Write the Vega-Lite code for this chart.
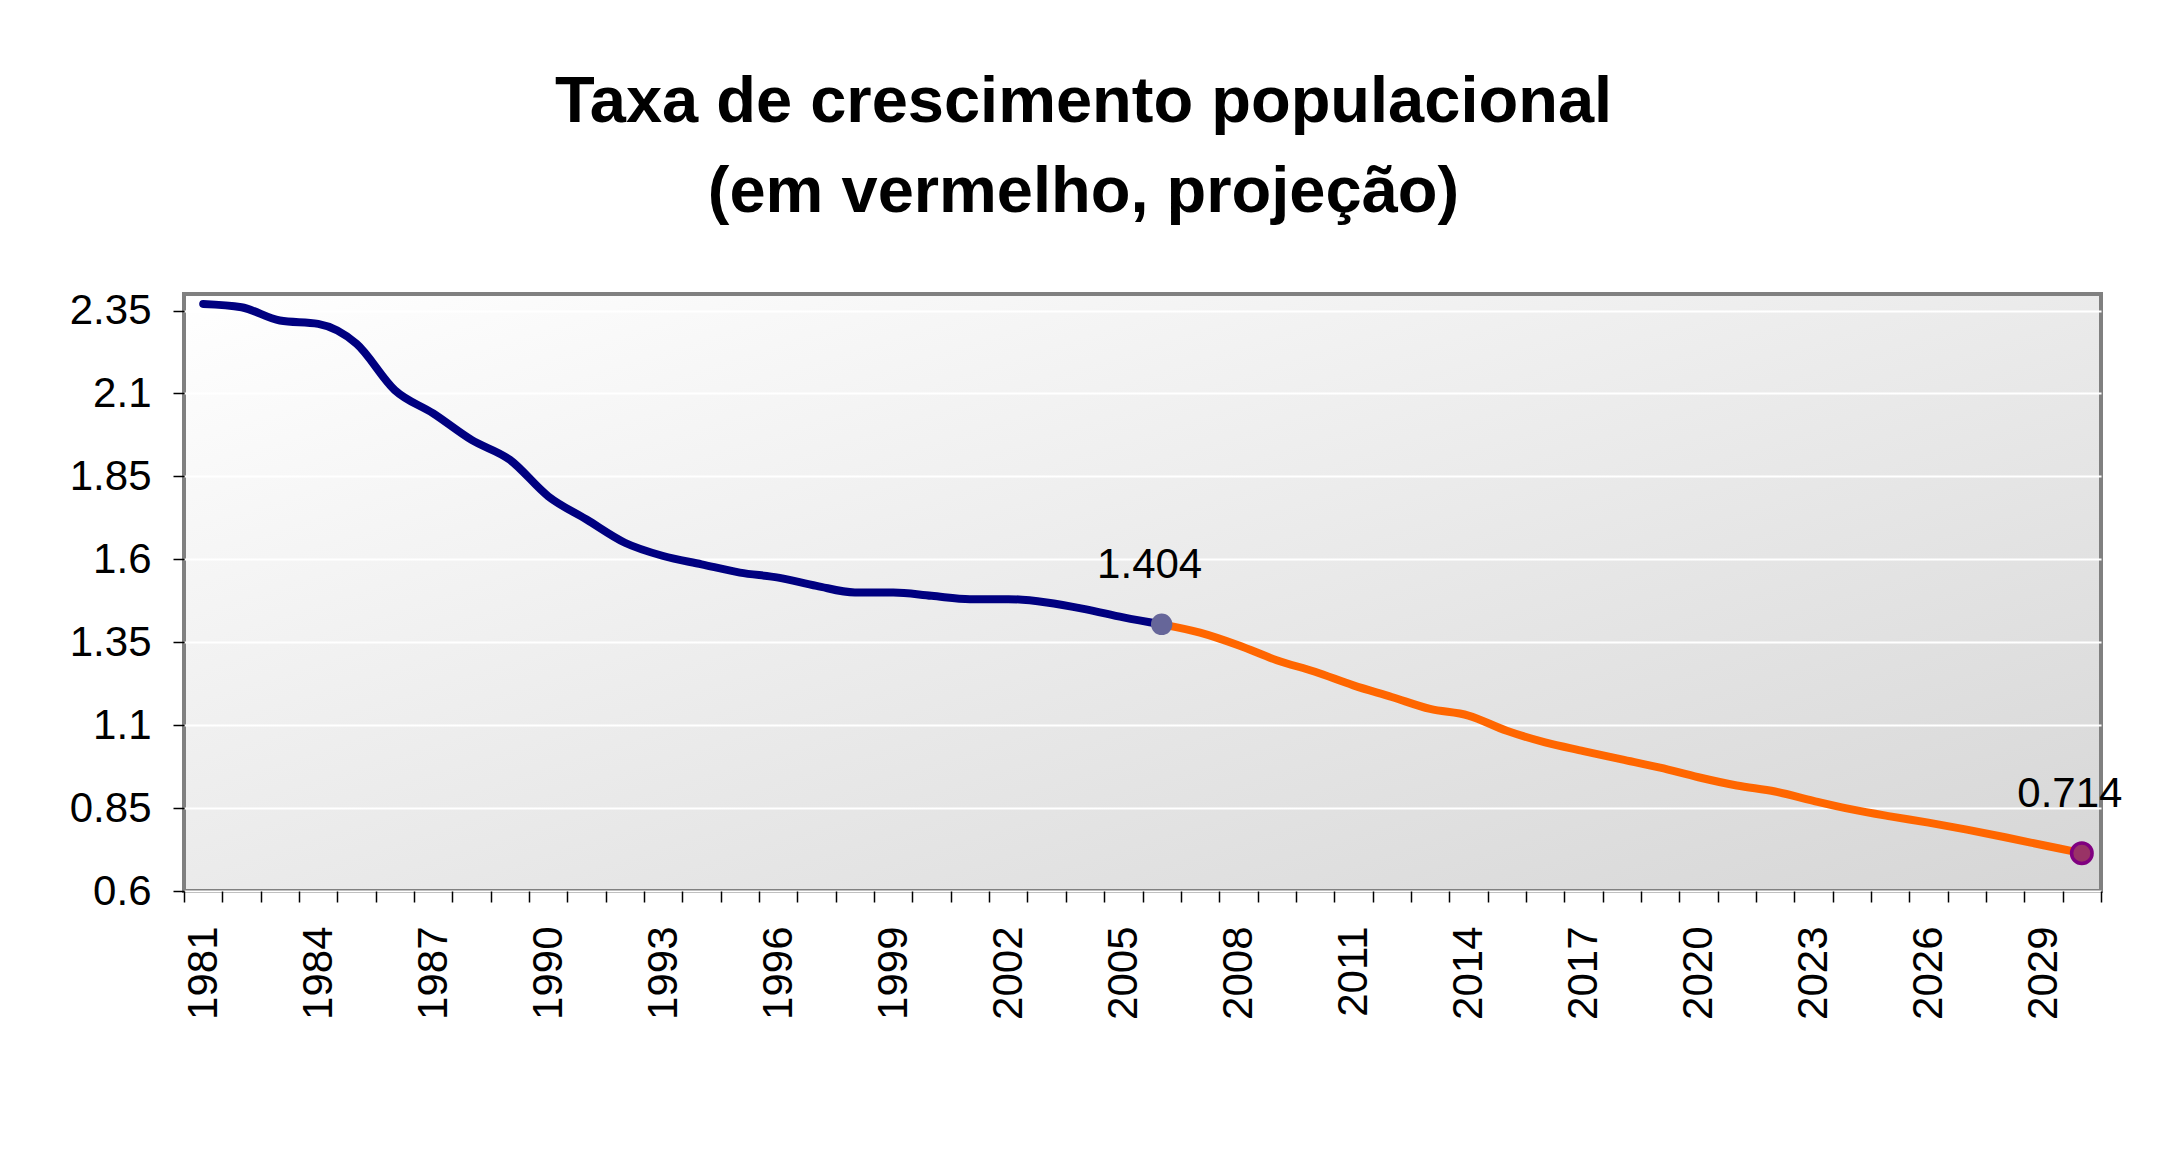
{
  "$schema": "https://vega.github.io/schema/vega-lite/v6.json",
  "width": 1917,
  "height": 597,
  "autosize": {"type": "none"},
  "padding": {"left": 184, "top": 294, "right": 65, "bottom": 258},
  "background": "white",
  "title": {
    "text": ["Taxa de crescimento populacional", "(em vermelho, projeção)"],
    "font": "Liberation Sans",
    "fontSize": 65,
    "fontWeight": "bold",
    "lineHeight": 90,
    "color": "black",
    "anchor": "middle",
    "frame": "group",
    "dx": -59,
    "offset": 62
  },
  "config": {
    "view": {
      "fill": {"gradient": "linear", "x1": 0, "y1": 0, "x2": 1, "y2": 1,
        "stops": [{"offset": 0, "color": "#ffffff"}, {"offset": 1, "color": "#d6d6d6"}]},
      "stroke": "#808080",
      "strokeWidth": 4
    }
  },
  "datasets": {
    "series": [
      {"year": 1981, "value": 2.37, "serie": "hist"},
      {"year": 1982, "value": 2.36, "serie": "hist"},
      {"year": 1983, "value": 2.32, "serie": "hist"},
      {"year": 1984, "value": 2.31, "serie": "hist"},
      {"year": 1985, "value": 2.25, "serie": "hist"},
      {"year": 1986, "value": 2.11, "serie": "hist"},
      {"year": 1987, "value": 2.04, "serie": "hist"},
      {"year": 1988, "value": 1.96, "serie": "hist"},
      {"year": 1989, "value": 1.9, "serie": "hist"},
      {"year": 1990, "value": 1.79, "serie": "hist"},
      {"year": 1991, "value": 1.72, "serie": "hist"},
      {"year": 1992, "value": 1.65, "serie": "hist"},
      {"year": 1993, "value": 1.61, "serie": "hist"},
      {"year": 1994, "value": 1.585, "serie": "hist"},
      {"year": 1995, "value": 1.56, "serie": "hist"},
      {"year": 1996, "value": 1.545, "serie": "hist"},
      {"year": 1997, "value": 1.52, "serie": "hist"},
      {"year": 1998, "value": 1.5, "serie": "hist"},
      {"year": 1999, "value": 1.5, "serie": "hist"},
      {"year": 2000, "value": 1.49, "serie": "hist"},
      {"year": 2001, "value": 1.48, "serie": "hist"},
      {"year": 2002, "value": 1.48, "serie": "hist"},
      {"year": 2003, "value": 1.47, "serie": "hist"},
      {"year": 2004, "value": 1.45, "serie": "hist"},
      {"year": 2005, "value": 1.425, "serie": "hist"},
      {"year": 2006, "value": 1.404, "serie": "hist"},
      {"year": 2006, "value": 1.404, "serie": "proj"},
      {"year": 2007, "value": 1.379, "serie": "proj"},
      {"year": 2008, "value": 1.341, "serie": "proj"},
      {"year": 2009, "value": 1.296, "serie": "proj"},
      {"year": 2010, "value": 1.261, "serie": "proj"},
      {"year": 2011, "value": 1.22, "serie": "proj"},
      {"year": 2012, "value": 1.185, "serie": "proj"},
      {"year": 2013, "value": 1.149, "serie": "proj"},
      {"year": 2014, "value": 1.129, "serie": "proj"},
      {"year": 2015, "value": 1.083, "serie": "proj"},
      {"year": 2016, "value": 1.048, "serie": "proj"},
      {"year": 2017, "value": 1.022, "serie": "proj"},
      {"year": 2018, "value": 0.997, "serie": "proj"},
      {"year": 2019, "value": 0.972, "serie": "proj"},
      {"year": 2020, "value": 0.943, "serie": "proj"},
      {"year": 2021, "value": 0.918, "serie": "proj"},
      {"year": 2022, "value": 0.9, "serie": "proj"},
      {"year": 2023, "value": 0.872, "serie": "proj"},
      {"year": 2024, "value": 0.846, "serie": "proj"},
      {"year": 2025, "value": 0.825, "serie": "proj"},
      {"year": 2026, "value": 0.806, "serie": "proj"},
      {"year": 2027, "value": 0.785, "serie": "proj"},
      {"year": 2028, "value": 0.762, "serie": "proj"},
      {"year": 2029, "value": 0.738, "serie": "proj"},
      {"year": 2030, "value": 0.714, "serie": "proj"}
    ],
    "marks": [
      {"year": 2006, "value": 1.404, "kind": "last"},
      {"year": 2030, "value": 0.714, "kind": "end"}
    ]
  },
  "encoding": {
    "x": {
      "field": "year",
      "type": "ordinal",
      "bandPosition": 0.5,
      "scale": {"type": "band", "paddingInner": 0, "paddingOuter": 0},
      "axis": {
        "title": null,
        "labelAngle": 270,
        "tickBand": "extent",
        "labelExpr": "(datum.value - 1981) % 3 == 0 ? datum.label : ''",
        "labelFont": "Liberation Sans",
        "labelFontSize": 42,
        "labelColor": "black",
        "tickColor": "black",
        "tickSize": 11,
        "tickWidth": 1.5,
        "domain": false,
        "grid": false,
        "labelPadding": 24,
        "labelOverlap": false
      }
    },
    "y": {
      "field": "value",
      "type": "quantitative",
      "scale": {"domain": [0.6, 2.4], "nice": false, "zero": false},
      "axis": {
        "title": null,
        "values": [0.6, 0.85, 1.1, 1.35, 1.6, 1.85, 2.1, 2.35],
        "format": ".2~f",
        "grid": true,
        "gridColor": "white",
        "gridWidth": 2,
        "domain": false,
        "tickColor": "black",
        "tickSize": 11,
        "tickWidth": 1.5,
        "labelFont": "Liberation Sans",
        "labelFontSize": 42,
        "labelColor": "black",
        "labelPadding": 22
      }
    }
  },
  "layer": [
    {
      "data": {"name": "series"},
      "mark": {"type": "line", "strokeWidth": 8, "interpolate": "monotone", "strokeCap": "round"},
      "encoding": {
        "color": {
          "field": "serie",
          "type": "nominal",
          "scale": {"domain": ["hist", "proj"], "range": ["#000080", "#FF6600"]},
          "legend": null
        }
      }
    },
    {
      "data": {"name": "marks"},
      "transform": [{"filter": "datum.kind == 'last'"}],
      "mark": {"type": "circle", "size": 460, "fill": "#666699", "opacity": 1}
    },
    {
      "data": {"name": "marks"},
      "transform": [{"filter": "datum.kind == 'end'"}],
      "mark": {"type": "circle", "size": 420, "fill": "#993366", "stroke": "#800080", "strokeWidth": 3.5, "opacity": 1}
    },
    {
      "data": {"name": "marks"},
      "mark": {"type": "text", "font": "Liberation Sans", "fontSize": 42, "color": "black", "align": "center", "baseline": "alphabetic", "dx": -12, "dy": -46},
      "encoding": {
        "text": {"field": "value", "type": "quantitative", "format": ".3f"}
      }
    }
  ]
}
